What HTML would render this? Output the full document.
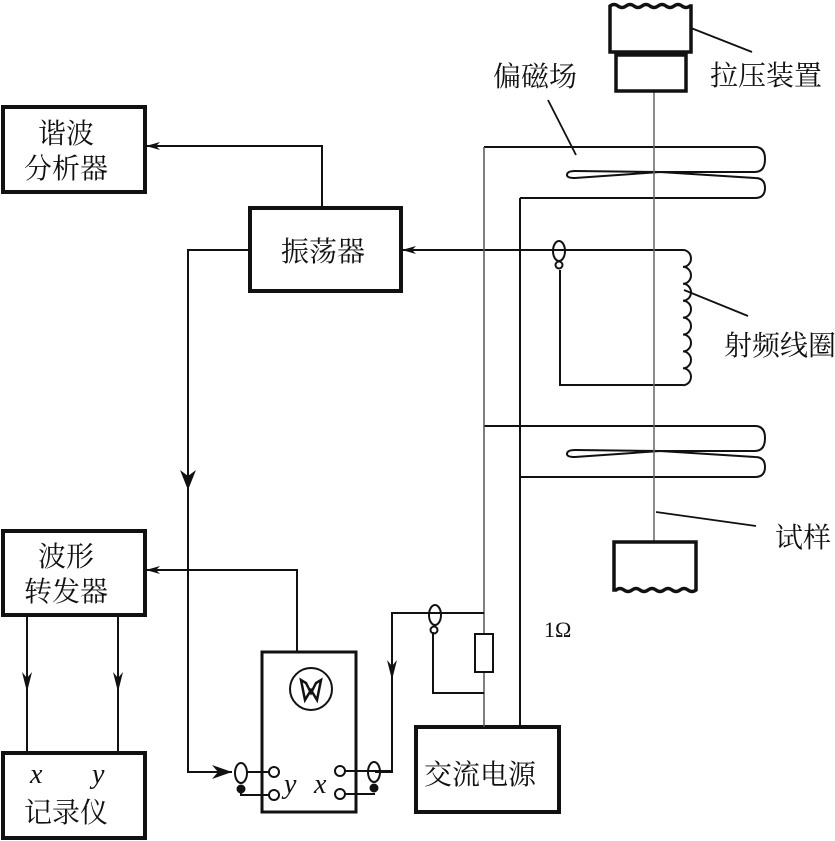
<!DOCTYPE html>
<html><head><meta charset="utf-8"><style>
html,body{margin:0;padding:0;background:#fff;}
svg{display:block;}
text{font-family:"Liberation Serif","Noto Serif CJK SC","Noto Sans CJK SC",serif;fill:#111;}
</style></head><body>
<svg width="835" height="841" viewBox="0 0 835 841" xmlns="http://www.w3.org/2000/svg">
<defs>
<marker id="a" markerWidth="14" markerHeight="8" refX="13" refY="4" orient="auto" markerUnits="userSpaceOnUse">
<path d="M0,0 L14,4 L0,8 L4,4 Z" fill="#111"/></marker>
</defs>
<g fill="none" stroke="#111" stroke-width="2">
<rect x="3" y="107" width="142" height="85" stroke-width="4"/>
<rect x="250" y="208" width="151" height="83" stroke-width="4"/>
<rect x="3" y="531" width="142" height="84" stroke-width="4"/>
<rect x="3" y="753" width="142" height="85" stroke-width="4"/>
<rect x="262" y="652" width="94" height="160" stroke-width="3"/>
<rect x="416" y="727" width="143" height="85" stroke-width="4"/>
<polyline points="322,207 322,146 147,146" marker-end="url(#a)"/>
<polyline points="250,250 188,250 188,772 232,772"/>
<path d="M180,470 L188,490 L196,470 L188,476 Z" fill="#111" stroke="none"/>
<path d="M212,765 L232,772 L212,779 L218,772 Z" fill="#111" stroke="none"/>
<polyline points="297,651 297,570 147,570" marker-end="url(#a)"/>
<line x1="27" y1="615" x2="27" y2="753"/>
<line x1="118" y1="615" x2="118" y2="753"/>
<path d="M22,672 L27,692 L32,672 L27,678 Z" fill="#111" stroke="none"/>
<path d="M113,672 L118,692 L123,672 L118,678 Z" fill="#111" stroke="none"/>
<polyline points="683,250 403,250" marker-end="url(#a)"/>
<path d="M683,250 a8,8.45 0 0 1 0,16.9 a8,8.45 0 0 1 0,16.9 a8,8.45 0 0 1 0,16.9 a8,8.45 0 0 1 0,16.9 a8,8.45 0 0 1 0,16.9 a8,8.45 0 0 1 0,16.9 a8,8.45 0 0 1 0,16.9 a8,8.45 0 0 1 0,16.9"/>
<polyline points="683,385 560,385 560,270"/>
<ellipse cx="559" cy="251" rx="6" ry="10"/>
<circle cx="559" cy="265" r="3.5"/>
<path d="M484,147 L755,147 q10,0 10,12 q0,13 -10,13 L660,172 L575,178 q-8,0 -8,-3 q0,-4 8,-4 L660,172 L755,178 q10,0 10,10 q0,10 -10,10 L520,198"/>
<path d="M484,426 L755,426 q10,0 10,12 q0,13 -10,13 L660,451 L575,457 q-8,0 -8,-3 q0,-4 8,-4 L660,451 L755,457 q10,0 10,10 q0,10 -10,10 L520,477"/>
<line x1="484" y1="147" x2="484" y2="727" stroke="#555" stroke-width="1.5"/>
<line x1="520" y1="198" x2="520" y2="727" stroke-width="2"/>
<line x1="654" y1="92" x2="654" y2="542" stroke="#666" stroke-width="1.5"/>
<path d="M610,52 L610,6 q4,-3 8,0 q4,3 8,0 q4,-3 8,0 q4,3 8,0 q4,-3 8,0 q4,3 8,0 q4,-3 8,0 q4,3 8,0 q4,-3 8,0 q4,3 8,0 L691,6 L691,52 Z" stroke-width="3.5"/>
<rect x="616" y="55" width="70" height="36" stroke-width="3.5"/>
<line x1="691" y1="28" x2="752" y2="52" stroke-width="1.8"/>
<path d="M614,542 L696,542 L696,590 q-4,3 -8,0 q-4,-3 -8,0 q-4,3 -8,0 q-4,-3 -8,0 q-4,3 -8,0 q-4,-3 -8,0 q-4,3 -8,0 q-4,-3 -8,0 q-4,3 -8,0 q-4,-3 -8,0 L614,590 Z" stroke-width="3.5"/>
<line x1="656" y1="512" x2="756" y2="526" stroke-width="1.8"/>
<line x1="548" y1="100" x2="576" y2="155" stroke-width="1.8"/>
<line x1="684" y1="290" x2="748" y2="316" stroke-width="1.8"/>
<polyline points="484,613 392,613 392,772 375,772"/>
<path d="M387,660 L392,680 L397,660 L392,666 Z" fill="#111" stroke="none"/>
<rect x="475" y="634" width="18" height="38" fill="#fff"/>
<polyline points="433,632 433,693 484,693"/>
<ellipse cx="435" cy="615" rx="6" ry="10"/>
<circle cx="434" cy="630" r="3.5"/>
<circle cx="274" cy="772" r="5"/>
<circle cx="274" cy="795" r="5"/>
<circle cx="340" cy="771" r="5"/>
<circle cx="340" cy="794" r="5"/>
<line x1="246" y1="772" x2="269" y2="772"/>
<polyline points="241,790 241,795 269,795"/>
<ellipse cx="241" cy="773" rx="6" ry="10"/>
<circle cx="241" cy="789" r="3.5" fill="#111"/>
<line x1="345" y1="771" x2="392" y2="771"/>
<line x1="345" y1="794" x2="375" y2="794"/>
<ellipse cx="374" cy="772" rx="6" ry="10"/>
<circle cx="374" cy="788" r="3.5" fill="#111"/>
<circle cx="311" cy="689" r="21"/>
<path d="M301,680 L305,700 L311,690 L317,700 L321,680 L316,683 L311,693 L306,683 Z" stroke-width="2.5"/>
</g>
<g font-size="28">
<text x="38" y="143">谐波</text>
<text x="24" y="178">分析器</text>
<text x="281" y="261">振荡器</text>
<text x="38" y="566">波形</text>
<text x="24" y="601">转发器</text>
<text x="24" y="822">记录仪</text>
<text x="424" y="784">交流电源</text>
<text x="710" y="85">拉压装置</text>
<text x="493" y="86">偏磁场</text>
<text x="724" y="355">射频线圈</text>
<text x="775" y="547">试样</text>
</g>
<g font-size="28" font-style="italic">
<text x="30" y="783">x</text>
<text x="92" y="783">y</text>
<text x="284" y="793">y</text>
<text x="314" y="793">x</text>
</g>
<text x="544" y="637" font-size="22">1Ω</text>
</svg>
</body></html>
